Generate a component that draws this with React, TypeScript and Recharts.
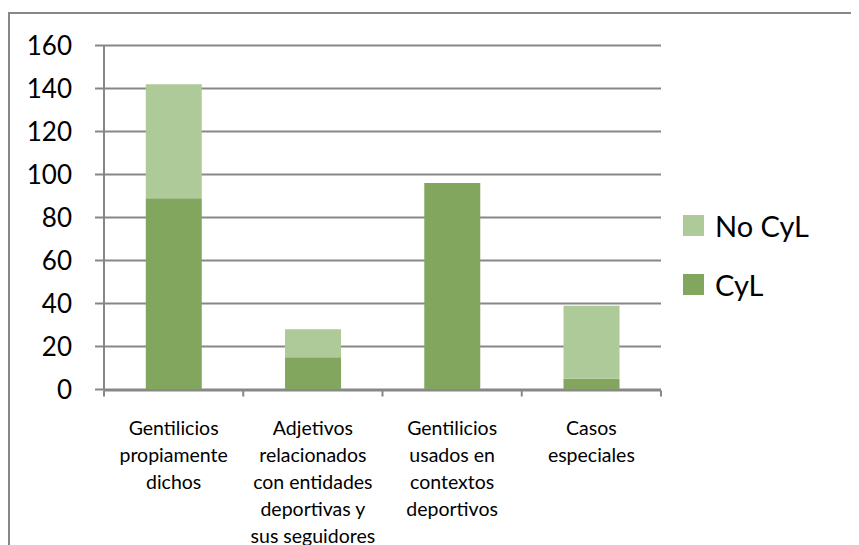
import React from "react";
import { BarChart, Bar, XAxis, YAxis, CartesianGrid, Legend } from "recharts";

const categories = [
  "Gentilicios propiamente dichos",
  "Adjetivos relacionados con entidades deportivas y sus seguidores",
  "Gentilicios usados en contextos deportivos",
  "Casos especiales",
];
const categoryLines = [
  ["Gentilicios", "propiamente", "dichos"],
  ["Adjetivos", "relacionados", "con entidades", "deportivas y", "sus seguidores"],
  ["Gentilicios", "usados en", "contextos", "deportivos"],
  ["Casos", "especiales"],
];
const cylValues = [89, 15, 96, 5];
const noCylValues = [53, 13, 0, 34];
const yTicks = [0, 20, 40, 60, 80, 100, 120, 140, 160];
const boundaryTicks = [0, 1, 2, 3, 4];

const COLOR_CYL = "#83a65e";
const COLOR_NOCYL = "#adca98";
const GRID = "#878787";
const FONT = "Lato, 'Open Sans', sans-serif";

const data = categories.map((name, i) => ({
  name,
  idx: i,
  CyL: cylValues[i],
  "No CyL": noCylValues[i],
}));

const CategoryTick = (props: any) => {
  const { x, y, index } = props;
  const lines = categoryLines[index] || [];
  return (
    <g>
      {lines.map((ln, k) => (
        <text
          key={k}
          x={x}
          y={y + 37 + k * 27}
          textAnchor="middle"
          fontFamily={FONT}
          fontSize={19.5}
          fill="#000"
        >
          {ln}
        </text>
      ))}
    </g>
  );
};

const LegendContent = (props: any) => {
  const items = [...(props.payload || [])].reverse();
  return (
    <div style={{ fontFamily: FONT }}>
      {items.map((it: any, k: number) => (
        <div
          key={k}
          style={{ display: "flex", alignItems: "center", height: 59, fontSize: 29 }}
        >
          <span
            style={{
              display: "inline-block",
              width: 21,
              height: 21,
              background: it.color,
              marginRight: 11,
            }}
          />
          <span style={{ color: "#000" }}>{it.value}</span>
        </div>
      ))}
    </div>
  );
};

export default function App() {
  return (
    <div style={{ position: "relative", width: 851, height: 537, background: "#fff" }}>
      <div
        style={{
          position: "absolute",
          left: 0,
          top: 4,
          width: 851,
          height: 533,
          borderLeft: "2px solid " + GRID,
          borderTop: "2px solid " + GRID,
          boxSizing: "border-box",
        }}
      />
      <BarChart
        width={851}
        height={537}
        data={data}
        margin={{ top: 37.5, right: 28, bottom: 153.5, left: 0 }}
        barCategoryGap="30%"
        style={{ position: "absolute", left: 0, top: 0 }}
      >
        <CartesianGrid vertical={false} stroke={GRID} strokeWidth={2} />
        <XAxis
          xAxisId="grid"
          type="number"
          dataKey="idx"
          domain={[0, 4]}
          ticks={boundaryTicks}
          height={1}
          axisLine={{ stroke: GRID, strokeWidth: 2 }}
          tickLine={{ stroke: GRID, strokeWidth: 2 }}
          tickSize={6}
          tick={() => <g />}
          allowDataOverflow
        />
        <XAxis
          xAxisId="cat"
          dataKey="name"
          height={1}
          axisLine={false}
          tickLine={false}
          interval={0}
          tick={<CategoryTick />}
        />
        <YAxis
          width={96}
          domain={[0, 160]}
          ticks={yTicks}
          interval={0}
          axisLine={{ stroke: GRID, strokeWidth: 2 }}
          tickLine={{ stroke: GRID, strokeWidth: 2 }}
          tickSize={9}
          tickMargin={23}
          tick={{ fontFamily: FONT, fontSize: 26, fill: "#000" }}
        />
        <Legend
          layout="vertical"
          align="right"
          verticalAlign="top"
          content={<LegendContent />}
          wrapperStyle={{ position: "absolute", left: 675, top: 188, width: 170 }}
        />
        <Bar xAxisId="cat" dataKey="CyL" stackId="a" fill={COLOR_CYL} isAnimationActive={false} />
        <Bar xAxisId="cat" dataKey="No CyL" stackId="a" fill={COLOR_NOCYL} isAnimationActive={false} />
      </BarChart>
    </div>
  );
}
